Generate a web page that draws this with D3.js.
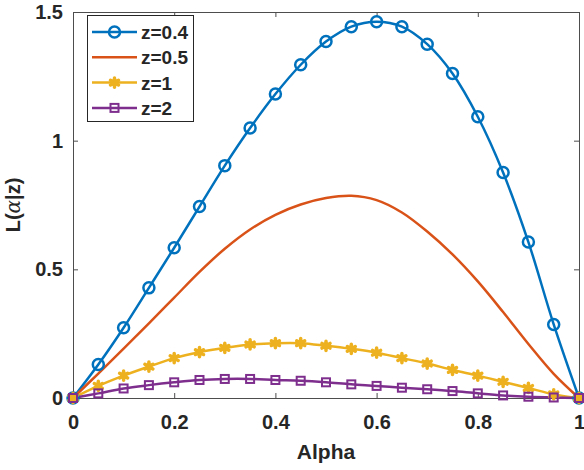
<!DOCTYPE html>
<html>
<head>
<meta charset="utf-8">
<script src="https://cdn.jsdelivr.net/npm/d3@7"></script>
<style>
  html, body { margin: 0; padding: 0; background: #fff; }
  svg { display: block; font-family: "Liberation Sans", Arial, sans-serif; }
</style>
</head>
<body>
<svg id="chart" width="584" height="470"></svg>
<script>
// alpha values (x), one every 0.05
const alpha = [0, 0.05, 0.1, 0.15, 0.2, 0.25, 0.3, 0.35, 0.4, 0.45, 0.5,
               0.55, 0.6, 0.65, 0.7, 0.75, 0.8, 0.85, 0.9, 0.95, 1];

const z04 = [0, 0.13, 0.273, 0.428, 0.584, 0.744, 0.903, 1.049, 1.181, 1.295, 1.385,
             1.443, 1.462, 1.443, 1.375, 1.261, 1.093, 0.876, 0.606, 0.286, 0];
const z05 = [0, 0.095, 0.192, 0.29, 0.39, 0.49, 0.58, 0.655, 0.712, 0.752, 0.777,
             0.786, 0.769, 0.721, 0.647, 0.558, 0.453, 0.334, 0.21, 0.094, 0];
const z1  = [0, 0.047, 0.087, 0.122, 0.155, 0.178, 0.195, 0.208, 0.213, 0.213, 0.203,
             0.191, 0.176, 0.155, 0.134, 0.109, 0.087, 0.063, 0.039, 0.014, 0];
const z2  = [0, 0.018, 0.037, 0.05, 0.061, 0.07, 0.074, 0.074, 0.07, 0.067, 0.061,
             0.053, 0.047, 0.04, 0.034, 0.027, 0.018, 0.01, 0.005, 0.002, 0];

const seriesNames = ["z=0.4", "z=0.5", "z=1", "z=2"];
const xTicks = [0, 0.2, 0.4, 0.6, 0.8, 1];
const yTicks = [0, 0.5, 1, 1.5];

const series = [
  { name: seriesNames[0], values: z04, color: "#0072BD", marker: "circle" },
  { name: seriesNames[1], values: z05, color: "#D95319", marker: null },
  { name: seriesNames[2], values: z1,  color: "#EDB120", marker: "star" },
  { name: seriesNames[3], values: z2,  color: "#7E2F8E", marker: "square" }
];

const svg = d3.select("#chart");
const margin = { left: 73, right: 5, top: 12, bottom: 72 };
const width = 584, height = 470;
const x = d3.scaleLinear().domain([0, 1]).range([margin.left, width - margin.right]);
const y = d3.scaleLinear().domain([0, 1.5]).range([height - margin.bottom, margin.top]);

const axisColor = "#262626";
const tickLen = 5;

// axes: inward ticks on all four sides (box on)
function styleAxis(g) {
  g.selectAll(".domain").attr("stroke", "#4d4d4d").attr("stroke-width", 1);
  g.selectAll(".tick line").attr("stroke", "#4d4d4d");
  g.selectAll("text")
    .attr("fill", axisColor)
    .attr("font-size", 20)
    .attr("font-weight", "bold")
    .attr("font-family", "Liberation Sans, Arial, sans-serif");
}

svg.append("g")
  .attr("transform", `translate(0,${y(0)})`)
  .call(d3.axisBottom(x).tickValues(xTicks).tickFormat(d3.format("~g"))
    .tickSizeInner(-tickLen).tickSizeOuter(0).tickPadding(17))
  .call(styleAxis);

svg.append("g")
  .attr("transform", `translate(${x(0)},0)`)
  .call(d3.axisLeft(y).tickValues(yTicks).tickFormat(d3.format("~g"))
    .tickSizeInner(-tickLen).tickSizeOuter(0).tickPadding(10))
  .call(styleAxis);

svg.append("g")
  .attr("transform", `translate(0,${y(1.5)})`)
  .call(d3.axisTop(x).tickValues(xTicks).tickFormat("")
    .tickSizeInner(-tickLen).tickSizeOuter(0))
  .call(styleAxis);

svg.append("g")
  .attr("transform", `translate(${x(1)},0)`)
  .call(d3.axisRight(y).tickValues(yTicks).tickFormat("")
    .tickSizeInner(-tickLen).tickSizeOuter(0))
  .call(styleAxis);

// axis titles
svg.append("text")
  .attr("x", (x(0) + x(1)) / 2)
  .attr("y", 459)
  .attr("text-anchor", "middle")
  .attr("font-size", 21)
  .attr("font-weight", "bold")
  .attr("fill", axisColor)
  .text("Alpha");

const yl = svg.append("text")
  .attr("transform", `translate(20,${(y(0) + y(1.5)) / 2}) rotate(-90)`)
  .attr("text-anchor", "middle")
  .attr("font-size", 20)
  .attr("font-weight", "bold")
  .attr("fill", axisColor);
yl.append("tspan").text("L(");
yl.append("tspan").attr("font-family", "DejaVu Serif, serif").attr("font-style", "italic")
  .attr("font-weight", "normal").text("α");
yl.append("tspan").text("|z)");

// lines
const line = d3.line()
  .x((d, i) => x(alpha[i]))
  .y(d => y(d))
  .curve(d3.curveCatmullRom.alpha(0.5));

const plot = svg.append("g");

function drawMarker(g, kind, color, cx, cy) {
  if (kind === "circle") {
    g.append("circle").attr("cx", cx).attr("cy", cy).attr("r", 5.5)
      .attr("fill", "none").attr("stroke", color).attr("stroke-width", 2.5);
  } else if (kind === "square") {
    g.append("rect").attr("x", cx - 4).attr("y", cy - 4).attr("width", 8).attr("height", 8)
      .attr("fill", "none").attr("stroke", color).attr("stroke-width", 2);
  } else if (kind === "star") {
    g.append("path")
      .attr("transform", `translate(${cx},${cy})`)
      .attr("d", d3.symbol(d3.symbolAsterisk, 60)())
      .attr("fill", "none").attr("stroke", color).attr("stroke-width", 3.5)
      .attr("stroke-linecap", "round");
    g.append("circle").attr("cx", cx).attr("cy", cy).attr("r", 3.5).attr("fill", color);
  }
}

series.forEach(s => {
  plot.append("path")
    .datum(s.values)
    .attr("d", line)
    .attr("fill", "none")
    .attr("stroke", s.color)
    .attr("stroke-width", 2.5)
    .attr("stroke-linejoin", "round");
});

// markers drawn after lines, in series order
series.forEach(s => {
  if (!s.marker) return;
  const mg = plot.append("g");
  s.values.forEach((v, i) => drawMarker(mg, s.marker, s.color, x(alpha[i]), y(v)));
});

// legend
const lg = svg.append("g");
lg.append("rect")
  .attr("x", 87.5).attr("y", 15.5).attr("width", 106).attr("height", 106)
  .attr("fill", "#fff").attr("stroke", axisColor).attr("stroke-width", 1);

series.forEach((s, i) => {
  const cy = 32 + i * 25.3;
  lg.append("line")
    .attr("x1", 92).attr("x2", 137).attr("y1", cy).attr("y2", cy)
    .attr("stroke", s.color).attr("stroke-width", 2.5);
  if (s.marker) drawMarker(lg, s.marker, s.color, 114.5, cy);
  lg.append("text")
    .attr("x", 141).attr("y", cy + 7)
    .attr("font-size", 19)
    .attr("font-weight", "bold")
    .attr("fill", axisColor)
    .text(s.name);
});
</script>
</body>
</html>
